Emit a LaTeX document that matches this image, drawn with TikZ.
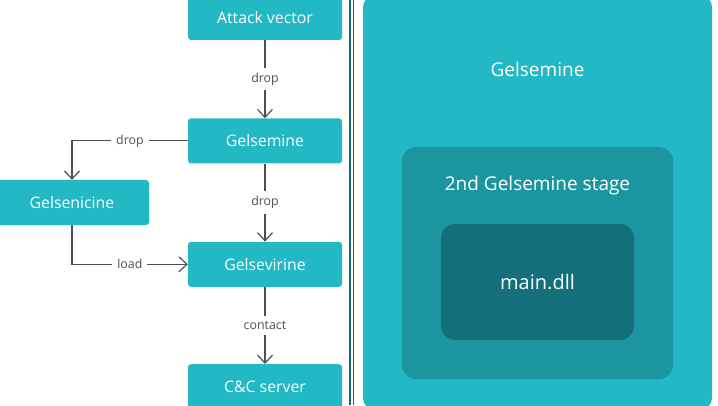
\documentclass[tikz,border=0pt]{standalone}
\usepackage{fontspec}
\setmainfont{Open Sans}
\usepackage{xcolor}
\definecolor{wlsTeal}{RGB}{34,184,196}
\definecolor{wlsMid}{RGB}{27,150,160}
\definecolor{wlsDeep}{RGB}{19,112,123}
\definecolor{wlsGrey}{RGB}{74,80,88}
\definecolor{wlsRule}{RGB}{24,104,116}
\usepackage{tikz}
\usetikzlibrary{positioning,arrows.meta}

\begin{document}
\begin{tikzpicture}[x=1pt,y=1pt,node distance=78pt,
  blk/.style={fill=wlsTeal,rounded corners=3pt,text=white,font=\fontsize{15.8}{18}\selectfont,minimum width=154pt,minimum height=45pt,inner sep=0pt},
  lbl/.style={fill=white,text=wlsGrey,font=\fontsize{12.4}{14}\selectfont,inner sep=5pt},
  nest/.style={rounded corners=14pt,text=white,inner sep=0pt},
  a/.style={-{Straight Barb[length=8pt,width=15pt]},wlsGrey,line width=1.2pt}]
  \useasboundingbox (0,0) rectangle (718,405);
  % left: chain of stages
  \node[blk] (atk) at (265,387.5) {Attack vector};
  \node[blk,below=of atk] (gsm) {Gelsemine};
  \node[blk,below=of gsm] (gsv) {Gelsevirine};
  \node[blk,below=77pt of gsv] (cnc) {C\&C server};
  \node[blk] (gsn) at (72,202.5) {Gelsenicine};
  \draw[a] (atk) -- node[lbl] {drop} (gsm);
  \draw[a] (gsm) -- node[lbl] {drop} (gsv);
  \draw[a] (gsv) -- node[lbl] {contact} (cnc);
  \draw[a] (gsm.west) -| node[lbl,pos=0.25] {drop} (gsn.north);
  \draw[a] (gsn.south) |- node[lbl,pos=0.75] {load} (gsv.west);
  % separator
  \foreach \x in {350,353.5}
    \draw[wlsRule,line width=1.3pt] (\x,0) -- (\x,405);
  % right: nested view
  \node[nest,rounded corners=12pt,fill=wlsTeal,minimum width=349pt,minimum height=415pt] (outer) at (537.5,202.5) {};
  \node[nest,fill=wlsMid,minimum width=271pt,minimum height=232pt] (stage) at (537.5,142) {};
  \node[nest,fill=wlsDeep,minimum width=193pt,minimum height=116pt,font=\fontsize{20}{24}\selectfont] (dll) at (537.5,123) {main.dll};
  \node[text=white,font=\fontsize{19}{22}\selectfont] (outerT) at (537.5,336) {Gelsemine};
  \node[text=white,font=\fontsize{19}{22}\selectfont] (stageT) at (537.5,219) {2nd Gelsemine stage};
\end{tikzpicture}
\end{document}
